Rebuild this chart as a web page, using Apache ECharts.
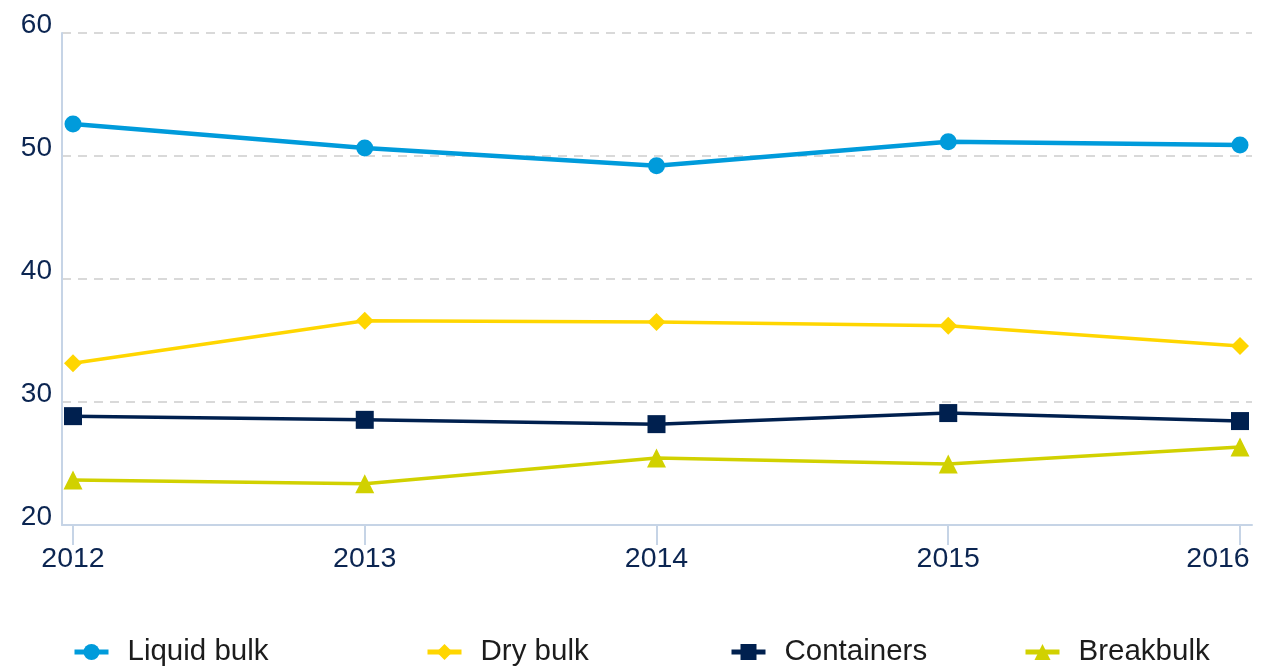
<!DOCTYPE html>
<html><head><meta charset="utf-8">
<script src="https://cdn.jsdelivr.net/npm/echarts@6/dist/echarts.min.js"></script>
<style>html,body{margin:0;padding:0;background:#fff}#c{width:1262px;height:668px}</style>
</head><body><div id="c"></div>
<script>
const years = [2012, 2013, 2014, 2015, 2016];
const liquidBulk = [52.6, 50.65, 49.2, 51.15, 50.9];
const dryBulk = [33.15, 36.6, 36.5, 36.2, 34.55];
const containers = [28.85, 28.55, 28.2, 29.1, 28.45];
const breakbulk = [23.65, 23.35, 25.45, 24.95, 26.35];
const yTicks = [20, 30, 40, 50, 60];

const pair = arr => arr.map((v, i) => [years[i], v]);
const axisColor = '#c6d4e6';
const labelColor = '#0b2551';
const font = 'Liberation Sans, Arial, Helvetica, sans-serif';
const lastYear = years[years.length - 1];

const chart = echarts.init(document.getElementById('c'), null, {renderer: 'canvas'});
function mkSeries(name, data, color, symbol, size, width) {
  return {name, type: 'line', data: pair(data), symbol, symbolSize: size, showSymbol: true,
    lineStyle: {color, width}, itemStyle: {color}, z: 3, animation: false};
}
function mkLegend(name, left) {
  return {data: [name], left, top: 637, itemWidth: 34, itemHeight: 20, padding: 0,
    lineStyle: {width: 5},
    textStyle: {fontFamily: font, fontSize: 29.5, color: '#1c1c1c', padding: [0, 0, 0, 14]}};
}
chart.setOption({
  animation: false,
  grid: {left: 62, right: 10, top: 33, bottom: 143, containLabel: false, outerBoundsMode: 'none'},
  xAxis: {
    type: 'value', min: 2012 - 11 / 291.75, max: 2016 + 12 / 291.75,
    axisLine: {show: true, lineStyle: {color: axisColor, width: 2}},
    axisTick: {show: true, customValues: years, length: 20, lineStyle: {color: axisColor, width: 2}},
    axisLabel: {customValues: years, color: labelColor, fontFamily: font, fontSize: 28.5, margin: 20,
      formatter: v => Math.round(v) === lastYear ? '{last|' + lastYear + '}' : String(Math.round(v)),
      rich: {last: {color: labelColor, fontFamily: font, fontSize: 28.5, padding: [0, 44, 0, 0]}}},
    splitLine: {show: false}
  },
  yAxis: {
    type: 'value', min: 20, max: 60, interval: 10,
    axisLine: {show: true, lineStyle: {color: axisColor, width: 2}},
    axisTick: {show: false},
    axisLabel: {color: labelColor, fontFamily: font, fontSize: 28, lineHeight: 15, margin: 10,
      verticalAlign: 'bottom', customValues: yTicks},
    splitLine: {show: true, lineStyle: {color: '#d9d9d9', width: 2, type: [9, 7]}}
  },
  legend: [
    mkLegend('Liquid bulk', 72),
    mkLegend('Dry bulk', 425),
    mkLegend('Containers', 729),
    mkLegend('Breakbulk', 1023)
  ],
  series: [
    mkSeries('Liquid bulk', liquidBulk, '#009bdb', 'circle', 17, 4.5),
    mkSeries('Dry bulk', dryBulk, '#ffd600', 'diamond', 18, 3.5),
    mkSeries('Containers', containers, '#00204f', 'rect', 18, 3.5),
    mkSeries('Breakbulk', breakbulk, '#d1d100', 'triangle', 19, 3.5)
  ]
});
</script></body></html>
